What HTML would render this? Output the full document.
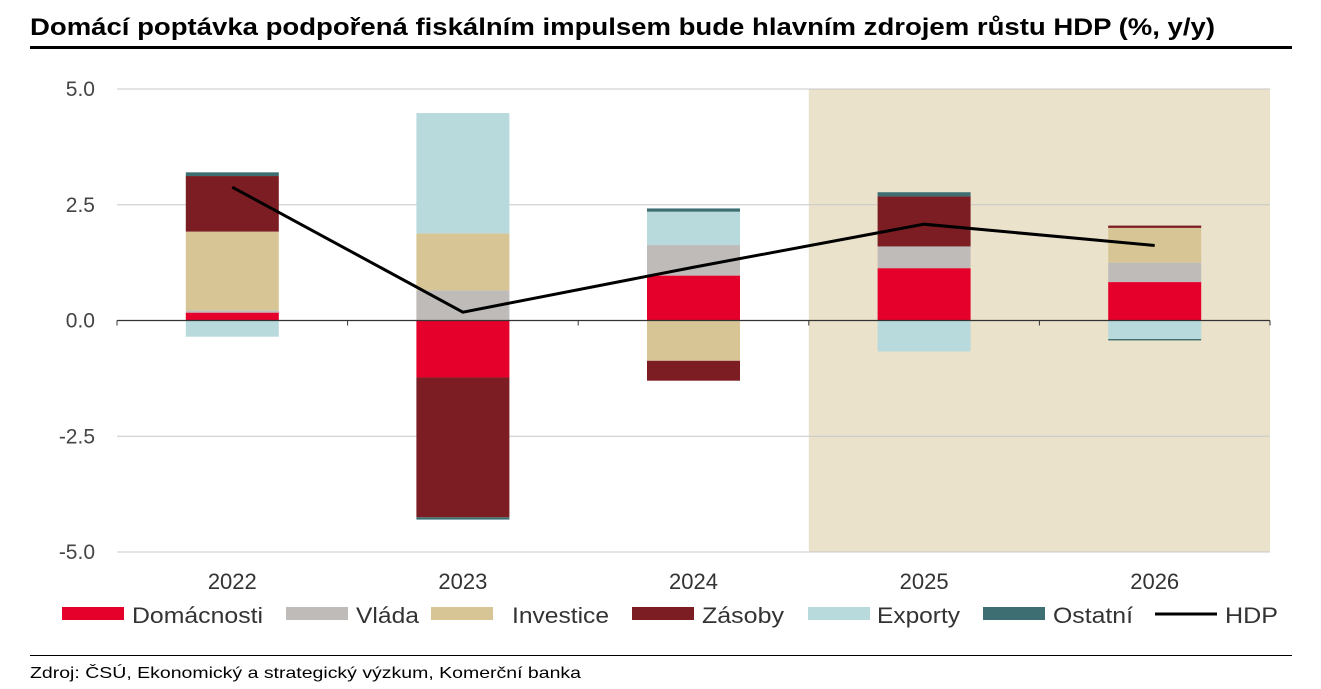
<!DOCTYPE html>
<html><head><meta charset="utf-8"><style>
body{margin:0;background:#fff;font-family:"Liberation Sans",Arial,sans-serif;}
#wrap{position:relative;width:1321px;height:689px;overflow:hidden;}
</style></head><body>
<div id="wrap">
<svg id="chart" width="1321" height="689" xmlns="http://www.w3.org/2000/svg">
<text x="30" y="35" font-size="24" font-weight="bold" fill="#000" textLength="1185" lengthAdjust="spacingAndGlyphs" font-family="Liberation Sans, Arial, sans-serif">Domácí poptávka podpořená fiskálním impulsem bude hlavním zdrojem růstu HDP (%, y/y)</text>
<rect x="30" y="46" width="1262" height="3" fill="#000"/>
<rect x="30" y="655" width="1262" height="1" fill="#000"/>
<text x="30" y="678" font-size="16" fill="#000" textLength="551" lengthAdjust="spacingAndGlyphs" font-family="Liberation Sans, Arial, sans-serif">Zdroj: ČSÚ, Ekonomický a strategický výzkum, Komerční banka</text>
<g id="plot"></g>
<g id="legend"></g>
</svg>
</div>
<script>
const years=["2022","2023","2024","2025","2026"];
const domacnosti=[0.17,-1.23,0.97,1.13,0.83];
const vlada=[0.05,0.65,0.66,0.47,0.42];
const investice=[1.70,1.23,-0.87,0.0,0.75];
const zasoby=[1.20,-3.02,-0.43,1.08,0.05];
const exporty=[-0.35,2.60,0.72,-0.67,-0.40];
const ostatni=[0.08,-0.05,0.07,0.09,-0.03];
const hdp=[2.88,0.18,1.15,2.08,1.62];
const yTicks=[5.0,2.5,0.0,-2.5,-5.0];
const forecastFrom=3;

const NS="http://www.w3.org/2000/svg";
const plot=document.getElementById('plot');
const x0=117,x1=1270,yTop=89,yBot=552,vMax=5,vMin=-5;
const y=v=>yTop+(vMax-v)/(vMax-vMin)*(yBot-yTop);
const band=(x1-x0)/years.length;
const xc=i=>x0+band*(i+0.5);
const bw=93;
function mk(t,a){const e=document.createElementNS(NS,t);for(const k in a)e.setAttribute(k,a[k]);return e;}
let sh=mk('rect',{x:x0+band*forecastFrom,y:yTop,width:x1-(x0+band*forecastFrom),height:yBot-yTop,fill:'#ebe2cb'});


plot.appendChild(sh);
yTicks.forEach(v=>{
 if(v!==0){const g=mk('line',{x1:x0,x2:x1,y1:y(v),y2:y(v),stroke:'#c8c8c8','stroke-width':1});
 
 
 plot.appendChild(g);}
 const t=mk('text',{x:95,y:y(v)+7,'text-anchor':'end','font-size':21,fill:'#444','font-family':'Liberation Sans, Arial, sans-serif'});
 t.textContent=v.toFixed(1);
 
 
 plot.appendChild(t);
});
const series=[
 {name:'Domácnosti',vals:domacnosti,c:'#e4002b'},
 {name:'Vláda',vals:vlada,c:'#bfbbb8'},
 {name:'Investice',vals:investice,c:'#d8c596'},
 {name:'Zásoby',vals:zasoby,c:'#7b1d22'},
 {name:'Exporty',vals:exporty,c:'#b9dadd'},
 {name:'Ostatní',vals:ostatni,c:'#3c6e72'}];
years.forEach((yr,i)=>{
 let pos=0,neg=0;
 series.forEach(s=>{
  const v=s.vals[i];if(!v)return;
  let a,b;
  if(v>0){a=pos;b=pos+v;pos=b;}else{a=neg;b=neg+v;neg=b;}
  const r=mk('rect',{x:xc(i)-bw/2,y:Math.min(y(a),y(b)),width:bw,height:Math.abs(y(a)-y(b)),fill:s.c});
  
  
  plot.appendChild(r);
 });
 const t=mk('text',{x:xc(i),y:589,'text-anchor':'middle','font-size':22,fill:'#333','font-family':'Liberation Sans, Arial, sans-serif'});
 t.textContent=yr;
 
 
 plot.appendChild(t);
});
const ax=mk('line',{x1:x0,x2:x1,y1:y(0),y2:y(0),stroke:'#333','stroke-width':1.2});


plot.appendChild(ax);
for(let i=0;i<=years.length;i++){
 const tk=mk('line',{x1:x0+band*i,x2:x0+band*i,y1:y(0),y2:y(0)+5,stroke:'#333'});
 
 
 plot.appendChild(tk);
}
const line=mk('polyline',{points:hdp.map((v,i)=>xc(i)+','+y(v)).join(' '),fill:'none',stroke:'#000','stroke-width':3});


plot.appendChild(line);
const lg=document.getElementById('legend');
const lx=[62,286,431,632,808,983];
const ltx=[132,356,512,702,877,1053];
const lw=[131,63,97,82,83,80];
series.forEach((s,i)=>{
 const r=mk('rect',{x:lx[i],y:607,width:62,height:13,fill:s.c});
 
 
 lg.appendChild(r);
 const t=mk('text',{x:ltx[i],y:623,'font-size':22,fill:'#333',textLength:lw[i],lengthAdjust:'spacingAndGlyphs','font-family':'Liberation Sans, Arial, sans-serif'});
 t.textContent=s.name;
 
 
 lg.appendChild(t);
});
const ll=mk('line',{x1:1155,x2:1217,y1:614,y2:614,stroke:'#000','stroke-width':3});


lg.appendChild(ll);
const lt=mk('text',{x:1225,y:623,'font-size':22,fill:'#333',textLength:53,lengthAdjust:'spacingAndGlyphs','font-family':'Liberation Sans, Arial, sans-serif'});
lt.textContent='HDP';


lg.appendChild(lt);
</script>
</body></html>
